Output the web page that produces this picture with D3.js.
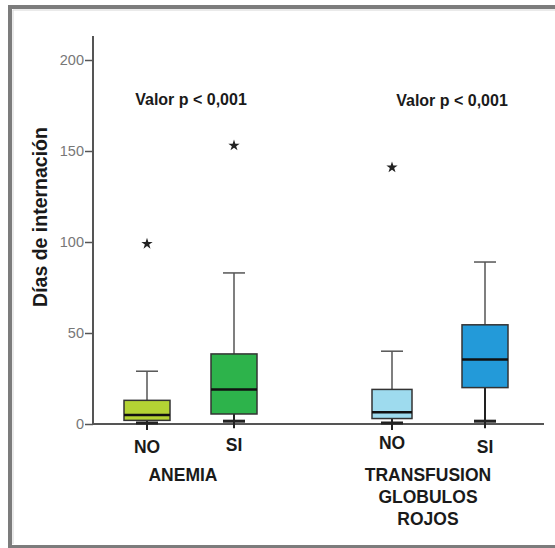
<!DOCTYPE html>
<html>
<head>
<meta charset="utf-8">
<script src="https://cdn.jsdelivr.net/npm/d3@7"></script>
<style>
  body { margin: 0; background: #fff; }
  svg { display: block; }
  text { font-family: "Liberation Sans", Arial, sans-serif; }
</style>
</head>
<body>
<script>
// data
const groups = ['ANEMIA', 'TRANSFUSION'];
const groupLabels = [['ANEMIA'], ['TRANSFUSION', 'GLOBULOS', 'ROJOS']];
const categories = ['NO', 'SI'];
const boxMin = [0, 1, 0, 1];
const boxQ1 = [2, 5.5, 3, 20];
const boxMedian = [5, 19, 6.5, 35.5];
const boxQ3 = [13, 38.5, 19, 54.5];
const boxMax = [29, 83, 40, 89];
const outliers = [99, 153, 141, null];
const boxColors = ['#b4d334', '#2db34b', '#9edbee', '#239ad9'];
const yTicks = [0, 50, 100, 150, 200];
const pLabel = 'Valor p < 0,001';

const W = 555, H = 548;
const svg = d3.select('body').append('svg').attr('width', W).attr('height', H);

// frame
svg.append('path')
  .attr('d', 'M10,548 V7 H555')
  .attr('fill', 'none').attr('stroke', '#7c7c7c').attr('stroke-width', 4);
svg.append('path')
  .attr('d', 'M13,544 V10 H555')
  .attr('fill', 'none').attr('stroke', '#d6d6d6').attr('stroke-width', 1);
svg.append('line')
  .attr('x1', 10).attr('x2', 555).attr('y1', 546.5).attr('y2', 546.5)
  .attr('stroke', '#7c7c7c').attr('stroke-width', 3);

const y = d3.scaleLinear().domain([0, 200]).range([424, 60]);

const items = [];
groups.forEach((g, gi) => {
  categories.forEach((c, ci) => items.push({ group: g, cat: c, i: gi * 2 + ci }));
});
// groups separated by a wider gap
const xPos = [147, 234, 392, 485];
const bw = 46;
const halfW = d => (d.group === 'TRANSFUSION' && d.cat === 'NO' ? 20 : bw / 2);

// y axis
svg.append('line')
  .attr('x1', 93).attr('x2', 93).attr('y1', 36).attr('y2', 424)
  .attr('stroke', '#555').attr('stroke-width', 2);
const yAxis = svg.append('g')
  .attr('transform', 'translate(93,0)')
  .call(d3.axisLeft(y).tickValues(yTicks).tickSize(8).tickPadding(1));
yAxis.select('.domain').remove();
yAxis.selectAll('line').attr('stroke', '#555').attr('stroke-width', 1.5);
yAxis.selectAll('text')
  .attr('fill', '#777').style('font-size', '14.5px');

// x axis line
svg.append('line')
  .attr('x1', 93).attr('x2', 544).attr('y1', 424).attr('y2', 424)
  .attr('stroke', '#555').attr('stroke-width', 2);

svg.append('text')
  .attr('transform', 'translate(47,217) rotate(-90)')
  .attr('text-anchor', 'middle')
  .attr('fill', '#1a1a1a')
  .style('font-size', '19.5px').style('font-weight', 'bold')
  .text('Días de internación');

// boxes
const box = svg.selectAll('g.box').data(items).join('g').attr('class', 'box');
box.append('line')
  .attr('x1', d => xPos[d.i]).attr('x2', d => xPos[d.i])
  .attr('y1', d => y(boxQ3[d.i])).attr('y2', d => y(boxMax[d.i]))
  .attr('stroke', '#555').attr('stroke-width', 1.5);
box.append('line')
  .attr('x1', d => xPos[d.i]).attr('x2', d => xPos[d.i])
  .attr('y1', d => y(boxQ1[d.i])).attr('y2', d => y(boxMin[d.i]) + 6)
  .attr('stroke', '#222').attr('stroke-width', 2);
box.append('line')
  .attr('x1', d => xPos[d.i] - 11).attr('x2', d => xPos[d.i] + 11)
  .attr('y1', d => y(boxMax[d.i])).attr('y2', d => y(boxMax[d.i]))
  .attr('stroke', '#555').attr('stroke-width', 1.5);
box.append('line')
  .attr('x1', d => xPos[d.i] - 11).attr('x2', d => xPos[d.i] + 11)
  .attr('y1', d => y(boxMin[d.i]) - 1).attr('y2', d => y(boxMin[d.i]) - 1)
  .attr('stroke', '#222').attr('stroke-width', 3);
box.append('rect')
  .attr('x', d => xPos[d.i] - halfW(d))
  .attr('width', d => 2 * halfW(d))
  .attr('y', d => y(boxQ3[d.i]))
  .attr('height', d => y(boxQ1[d.i]) - y(boxQ3[d.i]))
  .attr('fill', d => boxColors[d.i])
  .attr('stroke', '#333').attr('stroke-width', 1.5);
box.append('line')
  .attr('x1', d => xPos[d.i] - halfW(d))
  .attr('x2', d => xPos[d.i] + halfW(d))
  .attr('y1', d => y(boxMedian[d.i])).attr('y2', d => y(boxMedian[d.i]))
  .attr('stroke', '#111').attr('stroke-width', 2.5);

// outliers
svg.selectAll('path.out').data(items.filter(d => outliers[d.i] != null)).join('path')
  .attr('class', 'out')
  .attr('transform', d => `translate(${xPos[d.i]},${y(outliers[d.i])})`)
  .attr('d', d3.symbol(d3.symbolStar, 40))
  .attr('fill', '#222');

// category labels
svg.selectAll('text.cat').data(items).join('text')
  .attr('class', 'cat')
  .attr('x', d => xPos[d.i])
  .attr('y', d => [453, 451, 449, 453][d.i])
  .attr('text-anchor', 'middle')
  .attr('fill', '#1a1a1a')
  .style('font-size', '17.5px').style('font-weight', 'bold')
  .text(d => d.cat);

// group labels
const glx = [183, 428];
groupLabels.forEach((lines, gi) => {
  lines.forEach((t, li) => {
    svg.append('text')
      .attr('x', glx[gi]).attr('y', 481 + li * 22)
      .attr('text-anchor', 'middle')
      .attr('fill', '#1a1a1a')
      .style('font-size', '17.5px').style('font-weight', 'bold')
      .text(t);
  });
});

// p values
[191, 452].forEach((px, i) => {
  svg.append('text')
    .attr('x', px).attr('y', [105, 106][i])
    .attr('text-anchor', 'middle')
    .attr('fill', '#1a1a1a')
    .style('font-size', '16px').style('font-weight', 'bold')
    .text(pLabel);
});
</script>
</body>
</html>
